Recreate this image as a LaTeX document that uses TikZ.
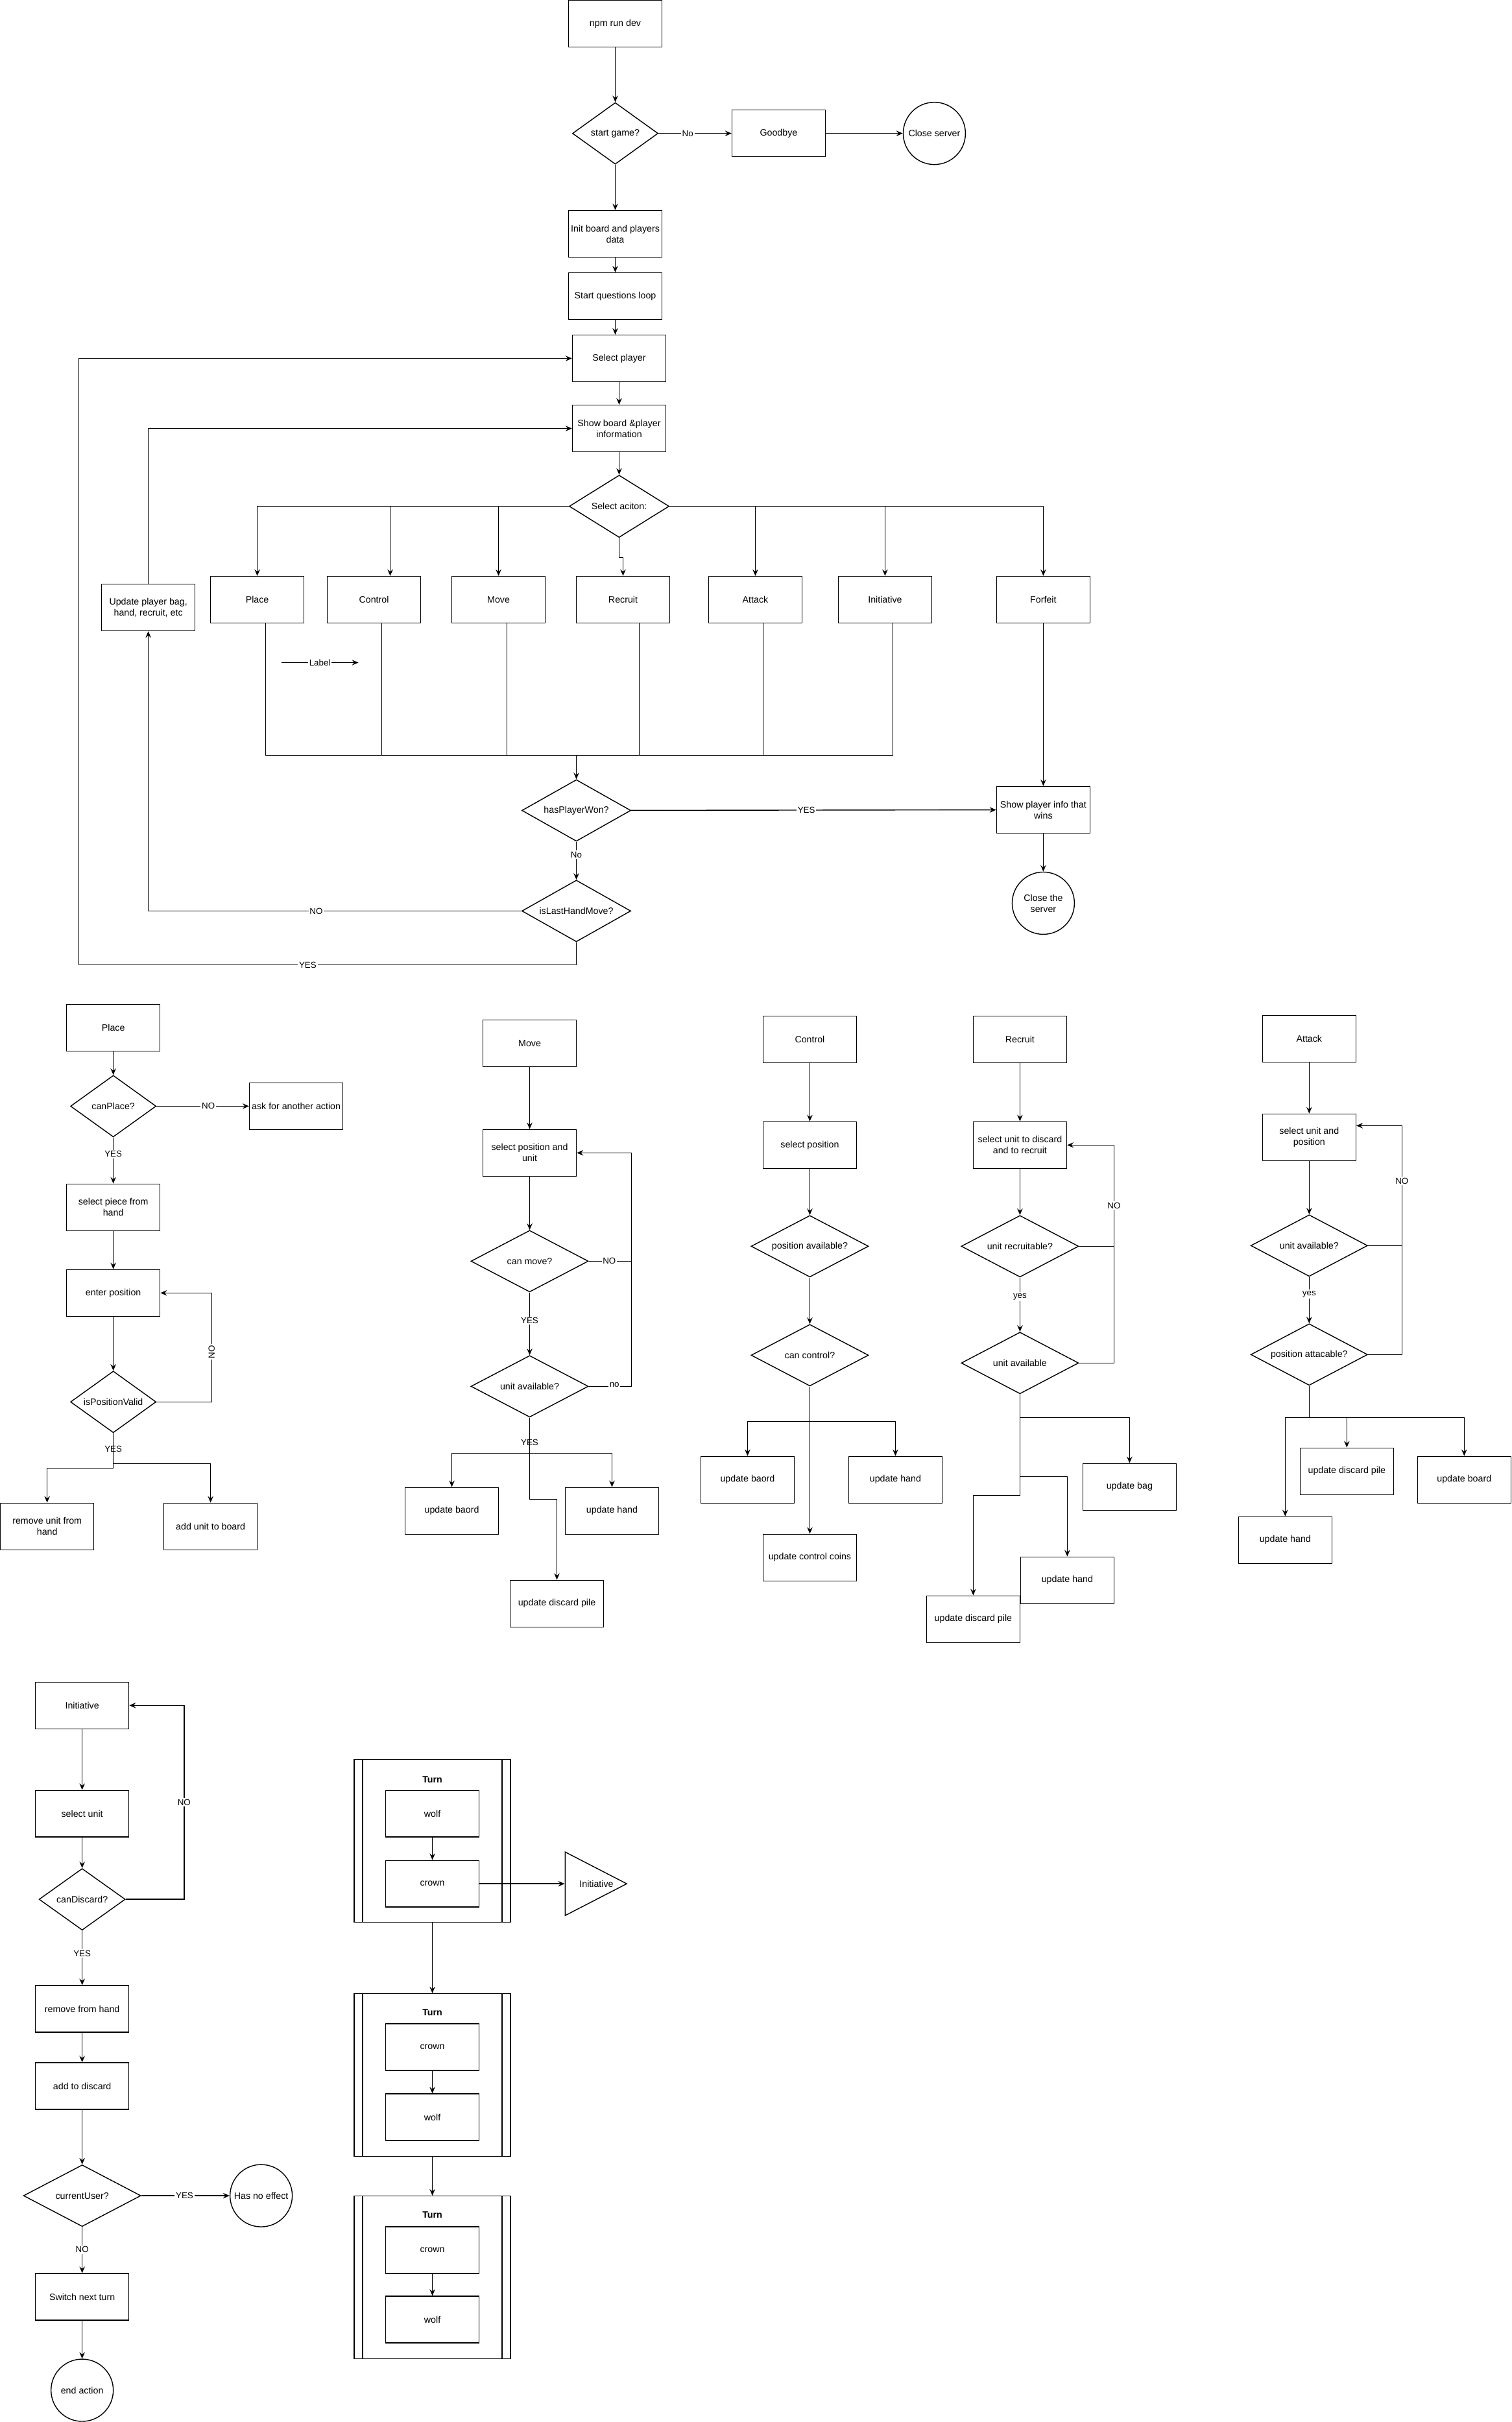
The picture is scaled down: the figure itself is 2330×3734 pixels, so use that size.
\documentclass[tikz,border=0pt]{standalone}
\usepackage{fontspec}
\setmainfont{Liberation Sans}
\usetikzlibrary{arrows.meta,shapes.geometric}
\tikzset{
  box/.style={draw, line width=0.8pt, align=center, minimum width=2.88cm, minimum height=1.44cm, inner sep=1pt, fill=white},
  dec/.style={draw, diamond, aspect=1.9, line width=0.8pt, align=center, inner sep=0pt, fill=white, minimum width=3.62cm, minimum height=1.9cm},
  term/.style={draw, ellipse, line width=0.8pt, align=center, minimum width=1.92cm, minimum height=1.92cm, inner sep=0pt, fill=white},
  tri/.style={draw, isosceles triangle, isosceles triangle stretches, line width=0.8pt, minimum width=1.96cm, minimum height=1.9cm, inner sep=0pt, fill=white},
  turnbox/.style={draw, line width=0.8pt, minimum width=4.82cm, minimum height=5.02cm, fill=white,
    path picture={
      \draw[line width=0.8pt] ([xshift=0.26cm]path picture bounding box.north west) -- ([xshift=0.26cm]path picture bounding box.south west);
      \draw[line width=0.8pt] ([xshift=-0.26cm]path picture bounding box.north east) -- ([xshift=-0.26cm]path picture bounding box.south east);
    }},
  turntitle/.style={font=\fontsize{8.1}{9.7}\selectfont\bfseries},
  arrow/.style={-{Stealth[length=2mm,width=1.7mm,inset=0.7mm]}, line width=0.8pt},
  line/.style={line width=0.8pt},
  lbl/.style={fill=white, inner sep=1pt, font=\fontsize{7.6}{9}\selectfont}
}

\begin{document}
\begin{tikzpicture}[x=0.02cm, y=-0.02cm, font=\fontsize{8.1}{9.7}\selectfont]
  \fill[white] (0,0) rectangle (2330,3734);

  % Main game loop
  \node[box] (npm) at (948,36) {npm run dev};
  \node[dec, minimum width=2.64cm] (startq) at (948,205) {start game?};
  \node[box] (goodbye) at (1200,205) {Goodbye};
  \node[term] (closesrv) at (1440,205) {\makebox[0pt]{Close server}};
  \node[box] (init) at (948,360) {Init board and players\\data};
  \node[box] (qloop) at (948,456) {Start questions loop};
  \node[box] (selplayer) at (954,552) {Select player};
  \node[box] (showboard) at (954,660) {Show board \&player\\information};
  \node[dec, minimum width=3.08cm, minimum height=1.92cm] (selaction) at (954,780) {Select aciton:};

  \node[box] (place) at (396,924) {Place};
  \node[box] (control) at (576,924) {Control};
  \node[box] (move) at (768,924) {Move};
  \node[box] (recruit) at (960,924) {Recruit};
  \node[box] (attack) at (1164,924) {Attack};
  \node[box] (initiative) at (1364,924) {Initiative};
  \node[box] (forfeit) at (1608,924) {Forfeit};
  \node[box] (upbag) at (228,936) {Update player bag,\\hand, recruit, etc};

  \node[dec, minimum width=3.36cm] (haswon) at (888,1249) {hasPlayerWon?};
  \node[dec, minimum width=3.36cm] (lasthand) at (888,1404) {isLastHandMove?};
  \node[box] (showwin) at (1608,1248) {Show player info that\\wins};
  \node[term] (closethe) at (1608,1392) {Close the\\server};

  \draw[arrow] (npm) -- (startq);
  \draw[arrow] (startq) -- node[lbl, pos=0.4] {No} (goodbye);
  \draw[arrow] (goodbye) -- (closesrv);
  \draw[arrow] (startq) -- (init);
  \draw[arrow] (init) -- (qloop);
  \draw[arrow] (qloop.south) -- (qloop.south |- selplayer.north);
  \draw[arrow] (selplayer) -- (showboard);
  \draw[arrow] (showboard) -- (selaction);

  \draw[arrow] (selaction.west) -| (place.north);
  \draw[arrow] (selaction.west) -| ([xshift=0.5cm]control.north);
  \draw[arrow] (selaction.west) -| (move.north);
  \draw[arrow] (selaction.south) -- ++(0,30) -| (recruit.north);
  \draw[arrow] (selaction.east) -| (attack.north);
  \draw[arrow] (selaction.east) -| (initiative.north);
  \draw[arrow] (selaction.east) -| (forfeit.north);

  \coordinate (merge) at (888,1164);
  \draw[line] ([xshift=0.26cm]place.south) |- (merge);
  \draw[line] ([xshift=0.24cm]control.south) |- (merge);
  \draw[line] ([xshift=0.26cm]move.south) |- (merge);
  \draw[line] ([xshift=0.5cm]recruit.south) |- (merge);
  \draw[line] ([xshift=0.24cm]attack.south) |- (merge);
  \draw[line] ([xshift=0.24cm]initiative.south) |- (merge);
  \draw[arrow] (merge) -- (haswon);

  \coordinate (lblA) at (433,1021);
  \coordinate (lblB) at (552,1021);
  \draw[arrow] (lblA) -- node[lbl] {Label} (lblB);

  \draw[arrow] (forfeit) -- (showwin);
  \draw[arrow] (haswon) -- node[lbl, pos=0.48] {YES} (showwin);
  \draw[arrow] (showwin) -- (closethe);
  \draw[arrow] (haswon) -- node[lbl, pos=0.34] {No} (lasthand);
  \draw[arrow] (lasthand.west) -- node[lbl, pos=0.55] {NO} (lasthand.west -| upbag) -- (upbag.south);
  \coordinate (yesleft) at (121,1487);
  \draw[arrow] (lasthand.south) |- node[lbl, pos=0.77] {YES} (yesleft) |- (selplayer.west);
  \draw[arrow] (upbag.north) |- (showboard.west);

  % Place
  \node[box] (pstart) at (174,1584) {Place};
  \node[dec, minimum width=2.64cm] (pcan) at (174,1705) {canPlace?};
  \node[box] (pask) at (456,1705) {ask for another action};
  \node[box] (psel) at (174,1861) {select piece from\\hand};
  \node[box] (penter) at (174,1993) {enter position};
  \node[dec, minimum width=2.64cm] (pvalid) at (174,2161) {isPositionValid};
  \node[box] (premove) at (72,2353) {remove unit from\\hand};
  \node[box] (padd) at (324,2353) {add unit to board};

  \draw[arrow] (pstart) -- (pcan);
  \draw[arrow] (pcan) -- node[lbl, pos=0.56] {NO} (pask);
  \draw[arrow] (pcan) -- node[lbl, pos=0.36] {YES} (psel);
  \draw[arrow] (psel) -- (penter);
  \draw[arrow] (penter) -- (pvalid);
  \draw[arrow] (pvalid.east) -- ++(85,0) |- node[lbl, pos=0.23, rotate=90] {NO} (penter.east);
  \draw[arrow] (pvalid.south) -- node[lbl, pos=0.45] {YES} ++(0,54) -| (premove.north);
  \draw[arrow] (pvalid.south) -- ++(0,47) -| (padd.north);

  % Move
  \node[box] (mstart) at (816,1608) {Move};
  \node[box] (msel) at (816,1777) {select position and\\unit};
  \node[dec] (mcan) at (816,1944) {can move?};
  \node[dec] (mavail) at (816,2137) {unit available?};
  \node[box] (mboard) at (696,2329) {update baord};
  \node[box] (mhand) at (943,2329) {update hand};
  \node[box] (mpile) at (858,2472) {update discard pile};

  \draw[arrow] (mstart) -- (msel);
  \draw[arrow] (msel) -- (mcan);
  \coordinate (mloop) at (973,1944);
  \draw[arrow] (mcan.east) -- node[lbl, pos=0.48] {NO} (mloop) |- (msel.east);
  \draw[arrow] (mcan) -- node[lbl, pos=0.45] {YES} (mavail);
  \draw[line] (mavail.east) -- node[lbl, pos=0.6, yshift=1.5pt] {no} (mavail.east -| mloop) -- (mloop);
  \draw[arrow] (mavail.south) -- node[lbl, pos=0.69] {YES} ++(0,55) -| (mboard.north);
  \draw[arrow] (mavail.south) -- ++(0,55) -| (mhand.north);
  \draw[arrow] (mavail.south) -- ++(0,126) -| (mpile.north);

  % Control
  \node[box] (cstart) at (1248,1602) {Control};
  \node[box] (csel) at (1248,1765) {select position};
  \node[dec] (cpos) at (1248,1921) {position available?};
  \node[dec] (ccan) at (1248,2089) {can control?};
  \node[box] (cboard) at (1152,2281) {update baord};
  \node[box] (chand) at (1380,2281) {update hand};
  \node[box] (ccoins) at (1248,2401) {update control coins};

  \draw[arrow] (cstart) -- (csel);
  \draw[arrow] (csel) -- (cpos);
  \draw[arrow] (cpos) -- (ccan);
  \draw[arrow] (ccan.south) -- ++(0,54) -| (cboard.north);
  \draw[arrow] (ccan.south) -- ++(0,54) -| (chand.north);
  \draw[arrow] (ccan) -- (ccoins);

  % Recruit
  \node[box] (rstart) at (1572,1602) {Recruit};
  \node[box] (rsel) at (1572,1765) {select unit to discard\\and to recruit};
  \node[dec] (rrec) at (1572,1921) {unit recruitable?};
  \node[dec] (ravail) at (1572,2101) {unit available};
  \node[box] (rbag) at (1741,2292) {update bag};
  \node[box] (rhand) at (1645,2436) {update hand};
  \node[box] (rpile) at (1500,2496) {update discard pile};

  \draw[arrow] (rstart) -- (rsel);
  \draw[arrow] (rsel) -- (rrec);
  \draw[arrow] (rrec) -- node[lbl, pos=0.35] {yes} (ravail);
  \coordinate (rloop) at (1717,1921);
  \draw[line] (ravail.east) -| (rloop);
  \draw[arrow] (rrec.east) -- (rloop) |- node[lbl, pos=0.2] {NO} (rsel.east);
  \draw[arrow] (ravail.south) -- ++(0,36) -| (rbag.north);
  \draw[arrow] (ravail.south) -- ++(0,127) -| (rhand.north);
  \draw[arrow] (ravail.south) -- ++(0,156) -| (rpile.north);

  % Attack
  \node[box] (astart) at (2018,1601) {Attack};
  \node[box] (asel) at (2018,1753) {select unit and\\position};
  \node[dec, minimum width=3.6cm] (aavail) at (2018,1920) {unit available?};
  \node[dec, minimum width=3.6cm] (apos) at (2018,2088) {position attacable?};
  \node[box] (ahand) at (1981,2374) {update hand};
  \node[box] (apile) at (2076,2268) {update discard pile};
  \node[box] (aboard) at (2257,2281) {update board};

  \draw[arrow] (astart) -- (asel);
  \draw[arrow] (asel) -- (aavail);
  \draw[arrow] (aavail) -- node[lbl, pos=0.37] {yes} (apos);
  \coordinate (aloop) at (2161,1920);
  \draw[line] (apos.east) -| (aloop);
  \draw[arrow] (aavail.east) -- (aloop) |- node[lbl, pos=0.27] {NO} ([yshift=0.36cm]asel.east);
  \draw[arrow] (apos.south) -- ++(0,49) -| (ahand.north);
  \draw[arrow] (apos.south) -- ++(0,49) -| (apile.north);
  \draw[arrow] (apos.south) -- ++(0,49) -| (aboard.north);

  % Initiative
  \node[box] (istart) at (126,2629) {Initiative};
  \node[box] (isel) at (126,2796) {select unit};
  \node[dec, minimum width=2.66cm] (ican) at (126,2928) {canDiscard?};
  \node[box] (iremove) at (126,3097) {remove from hand};
  \node[box] (iadd) at (126,3216) {add to discard};
  \node[dec] (iuser) at (126,3385) {currentUser?};
  \node[term] (inoeffect) at (402,3385) {\makebox[0pt]{Has no effect}};
  \node[box] (iswitch) at (126,3541) {Switch next turn};
  \node[term] (iend) at (126,3685) {end action};

  \draw[arrow] (istart) -- (isel);
  \draw[arrow] (isel) -- (ican);
  \draw[arrow] (ican.east) -- ++(90,0) |- node[lbl, pos=0.25] {NO} (istart.east);
  \draw[arrow] (ican) -- node[lbl, pos=0.42] {YES} (iremove);
  \draw[arrow] (iremove) -- (iadd);
  \draw[arrow] (iadd) -- (iuser);
  \draw[arrow] (iuser) -- node[lbl, pos=0.49] {YES} (inoeffect);
  \draw[arrow] (iuser) -- node[lbl, pos=0.49] {NO} (iswitch);
  \draw[arrow] (iswitch) -- (iend);

  % Turns
  \node[turnbox] (turnA) at (666,2838) {};
  \node[turntitle] (turnAt) at (666,2743) {Turn};
  \node[box] (wolfA) at (666,2796) {wolf};
  \node[box] (crownA) at (666,2904) {crown};
  \node[tri, anchor=west] (initri) at (870,2904) {};
  \node (initxt) at ([xshift=0.98cm]initri.west) {Initiative};

  \node[turnbox] (turnB) at (666,3199) {};
  \node[turntitle] (turnBt) at (666,3103) {Turn};
  \node[box] (crownB) at (666,3156) {crown};
  \node[box] (wolfB) at (666,3264) {wolf};

  \node[turnbox] (turnC) at (666,3511) {};
  \node[turntitle] (turnCt) at (666,3415) {Turn};
  \node[box] (crownC) at (666,3469) {crown};
  \node[box] (wolfC) at (666,3576) {wolf};

  \draw[arrow] (wolfA) -- (crownA);
  \draw[arrow] (crownA.east) -- (initri.west);
  \draw[arrow] (turnA) -- (turnB);
  \draw[arrow] (crownB) -- (wolfB);
  \draw[arrow] (turnB) -- (turnC);
  \draw[arrow] (crownC) -- (wolfC);
\end{tikzpicture}
\end{document}
